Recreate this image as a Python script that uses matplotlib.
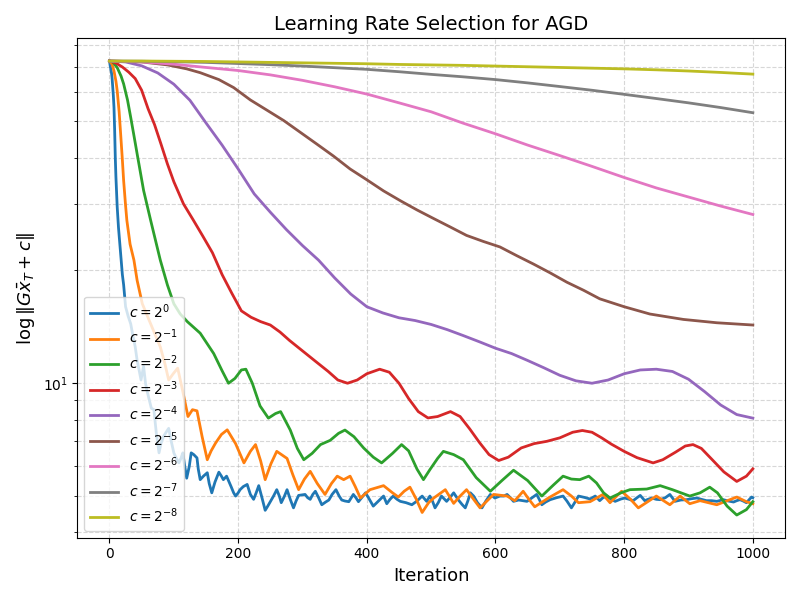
import matplotlib.pyplot as plt

# values (iteration, norm)
it_0 = [0, 1, 3, 4, 5, 6, 7, 8, 9, 10, 12, 14, 17, 20, 22, 25, 29, 33, 36, 40, 43, 46, 49, 53, 56, 58, 62, 65, 69, 73,
        77, 80, 84, 88, 92, 96, 100, 104, 108, 111, 114, 117, 120, 124, 127, 131, 136, 138, 141, 146, 152, 155, 159,
        164, 170, 174, 177, 182, 186, 189, 193, 196, 200, 203, 208, 214, 219, 224, 228, 232, 237, 242, 246, 250, 255,
        260, 264, 267, 272, 276, 281, 286, 290, 294, 304, 308, 312, 316, 320, 325, 330, 336, 341, 346, 352, 357, 361,
        366, 372, 379, 383, 387, 392, 398, 404, 410, 418, 426, 431, 436, 441, 447, 452, 461, 470, 478, 486, 493, 498,
        502, 506, 511, 516, 520, 524, 529, 535, 542, 548, 553, 557, 561, 566, 572, 579, 585, 592, 599, 607, 613, 618,
        623, 628, 636, 643, 649, 657, 664, 668, 672, 678, 685, 695, 705, 711, 718, 723, 729, 738, 747, 755, 762, 767,
        773, 780, 786, 795, 801, 808, 814, 820, 825, 832, 837, 843, 850, 856, 864, 871, 879, 888, 897, 905, 913, 920,
        928, 936, 944, 950, 954, 962, 970, 975, 980, 985, 990, 998, 1000]
val_0 = [72.4, 70.5, 67.5, 65.3, 62.0, 58.5, 54.4, 47.5, 40.1, 35.5, 29.5, 26.0, 22.6, 19.5, 18.3, 16.0, 15.1, 14.4,
         13.5, 12.5, 11.5, 10.85, 10.2, 11.1, 10.0, 9.6, 9.0, 8.58, 8.5, 7.3, 6.52, 6.9, 7.21, 7.4, 7.58, 7.0, 6.52,
         6.3, 6.13, 6.3, 6.52, 6.0, 5.58, 6.0, 6.52, 6.45, 6.32, 5.9, 5.53, 5.65, 5.77, 5.4, 5.1, 5.45, 5.79, 5.65,
         5.53, 5.65, 5.45, 5.3, 5.1, 5.0, 5.1, 5.2, 5.3, 5.37, 5.05, 4.9, 5.1, 5.33, 4.95, 4.58, 4.7, 4.83, 5.0, 5.2,
         5.0, 4.8, 5.0, 5.2, 4.9, 4.65, 4.85, 5.02, 5.05, 4.95, 4.9, 5.05, 5.15, 4.95, 4.74, 4.82, 4.88, 5.05, 5.2,
         5.0, 4.88, 4.85, 4.83, 5.05, 4.95, 4.83, 4.95, 5.1, 4.9, 4.7, 4.85, 5.0, 4.77, 4.9, 5.0, 4.9, 4.84, 4.8,
         4.74, 4.85, 5.0, 4.84, 5.0, 4.85, 4.65, 4.8, 5.0, 4.92, 4.84, 4.95, 5.1, 4.89, 4.75, 4.65, 4.85, 5.1, 5.0,
         4.8, 4.65, 4.85, 5.05, 4.94, 5.0, 5.0, 5.05, 4.95, 4.84, 4.88, 4.86, 4.84, 4.95, 5.05, 4.9, 4.74, 4.82,
         4.89, 4.95, 5.0, 4.85, 4.65, 4.8, 5.0, 4.96, 4.91, 5.0, 4.86, 4.95, 5.0, 4.9, 4.84, 4.91, 4.94, 4.9, 4.86,
         4.95, 5.02, 4.86, 4.9, 4.94, 4.9, 4.89, 4.95, 5.05, 4.84, 4.88, 4.89, 4.92, 4.94, 4.9, 4.86, 4.86, 4.84,
         4.87, 4.89, 4.85, 4.82, 4.86, 4.89, 4.85, 4.8, 4.97, 4.95]

it_1 = [0, 4, 7, 10, 12, 15, 17, 20, 22, 25, 27, 32, 38, 43, 51, 64, 79, 86, 92, 99, 106, 114, 122, 129, 136, 144, 152,
        158, 165, 174, 183, 196, 209, 219, 227, 235, 242, 251, 260, 276, 285, 294, 303, 312, 323, 335, 345, 354, 364,
        374, 382, 390, 405, 426, 440, 449, 458, 467, 477, 486, 496, 504, 522, 535, 545, 555, 566, 576, 597, 618, 630,
        643, 652, 661, 683, 705, 718, 729, 747, 767, 778, 796, 810, 822, 850, 871, 887, 902, 918, 944, 975, 990, 1000]
val_1 = [72.4, 71.0, 68.1, 64.0, 60.3, 53.0, 47.2, 39.5, 34.7, 29.8, 27.2, 23.5, 21.3, 18.8, 16.3, 14.4, 12.5, 11.3,
         10.2, 10.6, 10.97, 9.5, 8.15, 8.5, 8.44, 7.2, 6.25, 6.6, 6.93, 7.3, 7.51, 6.9, 6.13, 6.58, 6.86, 6.2, 5.53,
         6.1, 6.58, 6.3, 5.7, 5.2, 5.55, 5.82, 5.4, 5.05, 5.4, 5.65, 5.53, 5.65, 5.3, 4.94, 5.2, 5.33, 5.1, 4.97,
         5.15, 5.28, 4.9, 4.52, 4.8, 4.94, 5.2, 4.78, 5.0, 5.2, 4.9, 4.65, 5.05, 5.0, 4.86, 5.15, 4.9, 4.68, 4.95,
         5.2, 5.0, 4.8, 4.83, 5.05, 4.8, 5.15, 4.9, 4.65, 5.0, 4.74, 5.0, 4.77, 4.86, 4.74, 4.97, 4.83, 4.77]

it_2 = [0, 5, 12, 18, 22, 28, 33, 38, 43, 53, 64, 79, 90, 100, 110, 121, 141, 162, 175, 185, 195, 205, 212, 222, 234,
        247, 258, 266, 281, 292, 302, 315, 328, 343, 356, 366, 380, 395, 410, 423, 440, 454, 465, 478, 488, 498, 510,
        519, 535, 550, 570, 592, 610, 628, 650, 672, 690, 705, 718, 731, 745, 757, 768, 778, 795, 809, 835, 856, 875,
        902, 918, 933, 945, 960, 975, 990, 1000]
val_2 = [72.4, 72.0, 69.5, 66.0, 62.9, 57.0, 51.2, 45.8, 40.9, 32.7, 27.2, 21.3, 18.3, 16.3, 15.3, 14.6, 13.6, 12.0,
         10.8, 10.0, 10.3, 10.85, 10.9, 10.0, 8.7, 8.07, 8.3, 8.4, 7.5, 6.7, 6.25, 6.5, 6.86, 7.04, 7.35, 7.5, 7.2,
         6.72, 6.35, 6.13, 6.5, 6.86, 6.6, 5.9, 5.53, 5.88, 6.3, 6.58, 6.45, 6.25, 5.6, 5.15, 5.5, 5.86, 5.5, 5.0,
         5.35, 5.65, 5.55, 5.53, 5.65, 5.42, 5.1, 4.94, 5.1, 5.2, 5.22, 5.33, 5.2, 5.0, 5.1, 5.28, 5.1, 4.7, 4.45,
         4.6, 4.83]

it_3 = [0, 10, 20, 30, 40, 50, 60, 70, 80, 90, 100, 115, 130, 145, 160, 175, 190, 205, 220, 235, 250, 265, 280, 300,
        320, 340, 355, 370, 385, 400, 420, 435, 450, 465, 480, 495, 510, 530, 545, 560, 575, 590, 605, 620, 640, 660,
        680, 700, 720, 735, 750, 765, 780, 800, 820, 845, 860, 880, 895, 907, 920, 935, 955, 975, 990, 1000]
val_3 = [72.4, 71.5, 69.8, 67.6, 65.0, 60.5, 54.0, 49.0, 43.5, 38.5, 34.5, 30.1, 27.3, 24.7, 22.3, 19.5, 17.4, 15.6,
         15.0, 14.6, 14.3, 13.7, 13.0, 12.2, 11.45, 10.75, 10.2, 10.0, 10.2, 10.6, 10.9, 10.7, 10.0, 9.1, 8.4, 8.08,
         8.15, 8.4, 8.15, 7.55, 6.95, 6.45, 6.22, 6.35, 6.72, 6.9, 7.0, 7.15, 7.4, 7.48, 7.4, 7.15, 6.88, 6.58, 6.33,
         6.13, 6.25, 6.55, 6.8, 6.86, 6.7, 6.3, 5.8, 5.47, 5.65, 5.91]

it_4 = [0, 25, 50, 75, 100, 125, 150, 175, 200, 225, 250, 275, 300, 325, 350, 375, 400, 425, 450, 475, 500, 525, 550,
        575, 600, 625, 650, 675, 700, 725, 750, 775, 800, 825, 850, 875, 900, 925, 950, 975, 1000]
val_4 = [72.4, 72.0, 70.3, 67.3, 62.8, 56.9, 49.5, 43.2, 37.3, 32.0, 28.6, 25.7, 23.3, 21.3, 19.1, 17.3, 16.0, 15.4,
         14.95, 14.7, 14.35, 13.9, 13.4, 12.9, 12.4, 12.0, 11.5, 11.0, 10.5, 10.15, 10.0, 10.2, 10.6, 10.85, 10.9,
         10.75, 10.25, 9.5, 8.75, 8.25, 8.07]

it_5 = [0, 50, 90, 120, 141, 170, 193, 219, 245, 271, 296, 322, 348, 374, 400, 426, 452, 478, 504, 530, 555, 581, 607,
        633, 659, 685, 711, 737, 762, 800, 840, 892, 944, 1000]
val_5 = [72.4, 72.0, 70.7, 69.0, 67.4, 64.6, 61.5, 57.0, 53.5, 50.2, 46.8, 43.5, 40.4, 37.3, 34.9, 32.6, 30.7, 29.0,
         27.5, 26.1, 24.8, 23.9, 23.1, 21.9, 20.8, 19.7, 18.6, 17.7, 16.8, 16.0, 15.3, 14.8, 14.5, 14.3]

it_slow = [0, 50, 100, 150, 200, 250, 300, 350, 400, 450, 500, 550, 600, 650, 700, 750, 800, 850, 900, 950, 1000]
val_6 = [72.4, 72.0, 71.0, 69.6, 68.3, 66.5, 64.3, 61.8, 59.1, 56.0, 53.0, 49.4, 46.3, 43.2, 40.5, 37.9, 35.4, 33.2,
         31.4, 29.7, 28.2]
val_7 = [72.4, 72.3, 72.1, 71.8, 71.3, 70.8, 70.2, 69.5, 68.8, 67.8, 66.7, 65.7, 64.6, 63.3, 61.9, 60.5, 59.0, 57.5,
         56.0, 54.4, 52.7]
val_8 = [72.4, 72.4, 72.3, 72.2, 72.0, 71.8, 71.6, 71.4, 71.2, 70.9, 70.7, 70.5, 70.2, 69.9, 69.6, 69.3, 69.0, 68.6,
         68.1, 67.5, 66.8]

labels = ['$c = 2^{0}$', '$c = 2^{-1}$', '$c = 2^{-2}$', '$c = 2^{-3}$', '$c = 2^{-4}$',
          '$c = 2^{-5}$', '$c = 2^{-6}$', '$c = 2^{-7}$', '$c = 2^{-8}$']

series = [(it_0, val_0), (it_1, val_1), (it_2, val_2), (it_3, val_3), (it_4, val_4),
          (it_5, val_5), (it_slow, val_6), (it_slow, val_7), (it_slow, val_8)]

fig, ax = plt.subplots(figsize=(8, 6), dpi=100)
for (xs, ys), lab in zip(series, labels):
    ax.plot(xs, ys, linewidth=2, label=lab)

ax.set_yscale('log')
ax.set_title('Learning Rate Selection for AGD', fontsize=14)
ax.set_xlabel('Iteration', fontsize=13)
ax.set_ylabel(r'$\log\|G\bar{x}_T + c\|$', fontsize=13)
ax.grid(True, which='both', linestyle='--', alpha=0.5)
ax.legend(loc='lower left')
fig.tight_layout()
fig.savefig('out.png')
